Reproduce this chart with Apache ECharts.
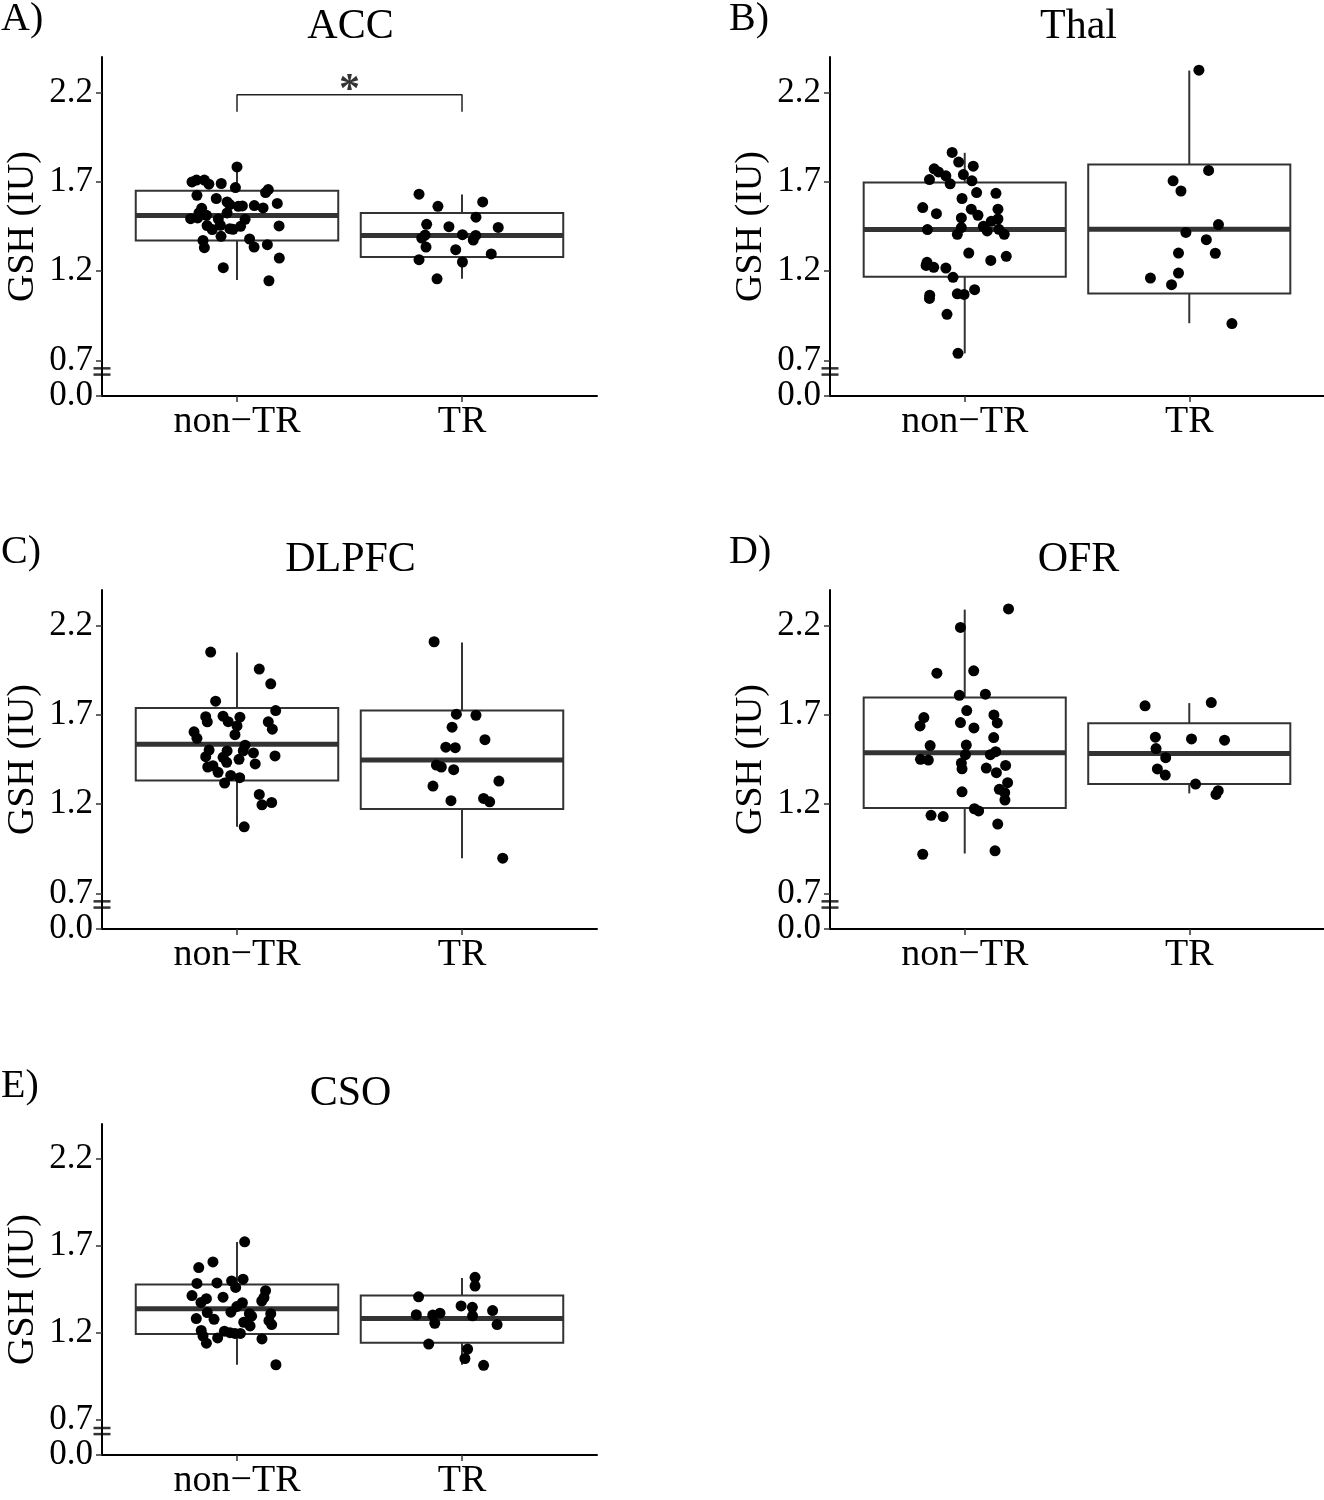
<!DOCTYPE html>
<html>
<head>
<meta charset="utf-8">
<script src="https://cdn.jsdelivr.net/npm/echarts@6/dist/echarts.min.js"></script>
<style>
  html, body { margin: 0; padding: 0; background: #fff; }
  #main { width: 1324px; height: 1500px; }
</style>
</head>
<body>
<div id="main"></div>
<script>
var myChart = echarts.init(document.getElementById('main'));

var groups = ['non\u2212TR', 'TR'];
var panelTitles = ['ACC', 'Thal', 'DLPFC', 'OFR', 'CSO'];
var panelLetters = ['A)', 'B)', 'C)', 'D)', 'E)'];
var tickValues = [0.0, 0.7, 1.2, 1.7, 2.2];
var tickLabels = ['0.0', '0.7', '1.2', '1.7', '2.2'];

// box stats: [lower whisker, Q1, median, Q3, upper whisker] for non-TR, TR
var accBox = [[1.15, 1.372, 1.512, 1.650, 1.784], [1.157, 1.279, 1.400, 1.526, 1.629]];
var thalBox = [[0.739, 1.168, 1.433, 1.697, 1.863], [0.908, 1.075, 1.434, 1.798, 2.324]];
var dlpfcBox = [[1.073, 1.333, 1.535, 1.738, 2.05], [0.897, 1.172, 1.447, 1.724, 2.106]];
var ofrBox = [[0.923, 1.178, 1.488, 1.797, 2.29], [1.26, 1.312, 1.483, 1.653, 1.766]];
var csoBox = [[1.018, 1.194, 1.340, 1.479, 1.722], [1.018, 1.144, 1.284, 1.415, 1.516]];

// jittered points: [horizontal jitter, GSH]
var accNonTR = [[0,1.784],[-0.20,1.70],[-0.18,1.71],[-0.145,1.71],[-0.125,1.687],[-0.07,1.691],[-0.007,1.668],[0.127,1.64],[0.139,1.657],[-0.178,1.625],[-0.092,1.607],[-0.044,1.588],[-0.032,1.573],[0.006,1.563],[0.024,1.565],[0.077,1.567],[0.116,1.554],[0.179,1.579],[-0.157,1.552],[-0.169,1.526],[-0.136,1.513],[-0.206,1.494],[-0.175,1.498],[-0.044,1.526],[-0.083,1.492],[0.036,1.49],[-0.133,1.455],[-0.11,1.433],[-0.074,1.457],[-0.032,1.438],[-0.018,1.434],[0.016,1.451],[0.187,1.453],[-0.071,1.395],[-0.151,1.372],[-0.145,1.331],[0.056,1.38],[0.076,1.335],[0.135,1.348],[0.188,1.273],[-0.061,1.219],[0.142,1.146]];
var accTR = [[-0.191,1.631],[-0.107,1.563],[0.092,1.588],[0.062,1.502],[-0.157,1.462],[-0.058,1.449],[0.161,1.445],[-0.164,1.402],[-0.179,1.385],[0.002,1.404],[0.061,1.40],[0.05,1.374],[-0.16,1.335],[-0.028,1.32],[0.13,1.296],[-0.191,1.264],[0.002,1.251],[-0.111,1.157]];
var thalNonTR = [[-0.056,1.865],[-0.027,1.811],[0.038,1.788],[-0.136,1.773],[-0.117,1.756],[-0.084,1.734],[-0.006,1.741],[-0.157,1.713],[-0.065,1.689],[0.032,1.706],[0.053,1.64],[0.139,1.636],[-0.012,1.607],[-0.187,1.556],[-0.126,1.522],[0.029,1.547],[0.059,1.513],[0.148,1.547],[-0.015,1.498],[0.148,1.492],[0.118,1.479],[-0.166,1.433],[-0.015,1.444],[0.083,1.451],[0.10,1.425],[-0.033,1.406],[0.152,1.434],[0.176,1.406],[0.018,1.301],[0.116,1.26],[0.185,1.283],[-0.168,1.249],[-0.172,1.232],[-0.138,1.221],[-0.084,1.217],[-0.052,1.165],[-0.156,1.065],[-0.157,1.047],[-0.033,1.073],[-0.003,1.069],[0.044,1.096],[-0.079,0.958],[-0.03,0.739]];
var thalTR = [[0.043,2.326],[0.086,1.764],[-0.072,1.706],[-0.037,1.649],[0.13,1.461],[-0.015,1.417],[0.076,1.376],[-0.048,1.301],[0.116,1.30],[-0.048,1.189],[-0.173,1.161],[-0.079,1.124],[0.19,0.906]];
var dlpfcNonTR = [[-0.117,2.052],[0.099,1.957],[0.15,1.874],[-0.095,1.777],[0.172,1.724],[-0.139,1.69],[-0.132,1.661],[-0.062,1.693],[-0.039,1.662],[0.013,1.687],[0,1.638],[0.139,1.661],[0.157,1.62],[-0.191,1.605],[-0.178,1.569],[-0.009,1.589],[0.036,1.53],[-0.124,1.503],[-0.044,1.498],[0.028,1.499],[0.073,1.487],[0.169,1.47],[-0.139,1.466],[-0.062,1.462],[0.009,1.451],[-0.046,1.434],[0.081,1.425],[-0.13,1.408],[-0.107,1.415],[-0.084,1.378],[-0.028,1.361],[0.012,1.348],[-0.055,1.318],[0.099,1.254],[0.111,1.196],[0.154,1.209],[0.032,1.073]];
var dlpfcTR = [[-0.124,2.11],[-0.025,1.704],[0.062,1.698],[-0.044,1.631],[0.102,1.561],[-0.072,1.519],[-0.03,1.516],[-0.114,1.419],[-0.092,1.408],[-0.037,1.393],[-0.129,1.301],[0.164,1.329],[-0.049,1.219],[0.096,1.232],[0.123,1.213],[0.181,0.897]];
var ofrNonTR = [[0.195,2.294],[-0.019,2.19],[-0.124,1.934],[0.04,1.947],[-0.024,1.81],[0.092,1.816],[0.009,1.724],[-0.182,1.685],[-0.199,1.638],[-0.019,1.657],[0.041,1.627],[0.13,1.70],[0.145,1.655],[0.129,1.573],[-0.154,1.528],[0.007,1.531],[0.138,1.494],[0.114,1.477],[0.003,1.477],[-0.197,1.451],[-0.162,1.447],[-0.015,1.43],[-0.012,1.398],[0.096,1.402],[0.182,1.417],[0.141,1.376],[0.191,1.32],[0.154,1.283],[0.178,1.264],[0.179,1.223],[-0.012,1.269],[0.043,1.174],[0.062,1.162],[-0.15,1.137],[-0.096,1.13],[0.147,1.088],[-0.187,0.919],[0.135,0.938]];
var ofrTR = [[-0.197,1.751],[0.098,1.769],[-0.151,1.575],[0.01,1.565],[0.157,1.558],[-0.148,1.511],[-0.105,1.46],[-0.142,1.397],[-0.107,1.363],[0.028,1.312],[0.119,1.254],[0.129,1.275]];
var csoNonTR = [[0.034,1.724],[-0.107,1.608],[-0.17,1.576],[-0.178,1.485],[-0.089,1.488],[-0.024,1.499],[0.027,1.509],[-0.006,1.462],[0.127,1.443],[0.12,1.404],[0.11,1.384],[-0.2,1.415],[-0.136,1.397],[-0.16,1.376],[-0.062,1.406],[0.024,1.374],[-0.001,1.352],[-0.027,1.32],[-0.132,1.318],[0.055,1.311],[0.065,1.297],[0.15,1.311],[-0.181,1.283],[-0.102,1.279],[0.03,1.262],[0.058,1.241],[0.142,1.271],[0.154,1.249],[-0.159,1.215],[-0.056,1.211],[-0.031,1.202],[-0.009,1.198],[0.015,1.198],[-0.151,1.183],[-0.086,1.172],[0.111,1.166],[-0.136,1.142],[0.173,1.018]];
var csoTR = [[0.058,1.52],[0.058,1.47],[-0.193,1.408],[-0.004,1.356],[0.046,1.348],[0.136,1.329],[-0.203,1.305],[-0.13,1.303],[-0.098,1.314],[0.047,1.299],[-0.121,1.256],[0.156,1.249],[-0.148,1.137],[0.025,1.108],[0.013,1.054],[0.096,1.015]];

// significance bracket on ACC
var accSigLine = [[0, 2.093], [0, 2.189], [1, 2.189], [1, 2.093]];
var accSigLabel = [[0.5, 2.19, '*']];

var panelBoxes = [accBox, thalBox, dlpfcBox, ofrBox, csoBox];
var panelPoints = [[accNonTR, accTR], [thalNonTR, thalTR], [dlpfcNonTR, dlpfcTR], [ofrNonTR, ofrTR], [csoNonTR, csoTR]];

// axis break: 0.0..0.7 squeezed into a short stretch under 0.7
function toAxis(v) { return v >= 0.7 ? v : 0.5 + v * (0.2 / 0.7); }
var tickPos = tickValues.map(toAxis);
function tickText(v) {
    var best = 0;
    for (var k = 0; k < tickPos.length; k++) {
        if (Math.abs(tickPos[k] - v) < Math.abs(tickPos[best] - v)) best = k;
    }
    return tickLabels[best];
}

var FONT = 'Liberation Serif';
var gridPos = [[102, 57], [830, 57], [102, 590], [830, 590], [102, 1124]];
var GW = 495, GH = 339;

var grids = [], xAxes = [], yAxes = [], titles = [], series = [];

gridPos.forEach(function (p, i) {
    grids.push({ left: p[0], top: p[1], width: GW, height: GH });
    xAxes.push({
        type: 'value', gridIndex: i, min: -0.6, max: 1.6,
        axisLine: { show: true, onZero: false, lineStyle: { color: '#000', width: 2 } },
        axisTick: { show: true, customValues: [0, 1], length: 6, lineStyle: { color: '#333', width: 1.5 } },
        axisLabel: { customValues: [0, 1], formatter: function (v) { return groups[Math.round(v)]; },
            fontFamily: FONT, fontSize: 38, color: '#000', margin: 7 },
        splitLine: { show: false }
    });
    yAxes.push({
        type: 'value', gridIndex: i, min: 0.5, max: 2.4,
        axisLine: { show: true, onZero: false, lineStyle: { color: '#000', width: 2 } },
        axisTick: { show: true, customValues: tickPos, length: 6, lineStyle: { color: '#333', width: 1.5 } },
        axisLabel: { customValues: tickPos, formatter: tickText,
            fontFamily: FONT, fontSize: 35, color: '#000', margin: 9 },
        splitLine: { show: false },
        name: 'GSH (IU)', nameLocation: 'middle', nameGap: 60,
        nameTextStyle: { fontFamily: FONT, fontSize: 38, color: '#000' }
    });
    titles.push({
        text: panelTitles[i], left: p[0] + GW / 2 - 4, top: p[1] - 56, textAlign: 'center',
        textStyle: { fontFamily: FONT, fontSize: 42, fontWeight: 'normal', color: '#000' }
    });
    titles.push({
        text: panelLetters[i], left: p[0] - 106, top: p[1] - 63,
        textStyle: { fontFamily: FONT, fontSize: 40, fontWeight: 'normal', color: '#000' }
    });

    var boxData = panelBoxes[i].map(function (b, g) { return [g].concat(b); });
    series.push({
        type: 'custom', xAxisIndex: i, yAxisIndex: i, data: boxData, z: 2,
        renderItem: function (params, api) {
            var g = api.value(0);
            var half = api.size([0.9, 0])[0] / 2;
            var lo = api.coord([g, api.value(1)]);
            var q1 = api.coord([g, api.value(2)]);
            var md = api.coord([g, api.value(3)]);
            var q3 = api.coord([g, api.value(4)]);
            var hi = api.coord([g, api.value(5)]);
            var st = { stroke: '#333', lineWidth: 2 };
            return {
                type: 'group',
                children: [
                    { type: 'line', shape: { x1: hi[0], y1: hi[1], x2: q3[0], y2: q3[1] }, style: st },
                    { type: 'line', shape: { x1: q1[0], y1: q1[1], x2: lo[0], y2: lo[1] }, style: st },
                    { type: 'rect', shape: { x: q3[0] - half, y: q3[1], width: half * 2, height: q1[1] - q3[1] },
                      style: { fill: '#fff', stroke: '#333', lineWidth: 2 } },
                    { type: 'line', shape: { x1: md[0] - half, y1: md[1], x2: md[0] + half, y2: md[1] },
                      style: { stroke: '#333', lineWidth: 5 } }
                ]
            };
        }
    });

    panelPoints[i].forEach(function (pts, g) {
        series.push({
            type: 'scatter', xAxisIndex: i, yAxisIndex: i, z: 3,
            symbolSize: 11, itemStyle: { color: '#000', opacity: 1 },
            data: pts.map(function (d) { return [g + d[0], toAxis(d[1])]; })
        });
    });

    // axis-break marks on the y axis
    series.push({
        type: 'scatter', xAxisIndex: i, yAxisIndex: i, z: 4, silent: true, clip: false,
        symbol: 'rect', symbolSize: [17, 2.5], itemStyle: { color: '#000' },
        data: [[-0.6, 0.655], [-0.6, 0.62]]
    });
});

series.push({
    type: 'line', xAxisIndex: 0, yAxisIndex: 0, data: accSigLine, symbol: 'none', z: 4,
    lineStyle: { color: '#222', width: 1.5 }
});
series.push({
    type: 'scatter', xAxisIndex: 0, yAxisIndex: 0, data: accSigLabel, symbolSize: 0, z: 4,
    label: { show: true, position: 'inside', offset: [0, -3], formatter: function (p) { return p.data[2]; },
        fontFamily: FONT, fontSize: 42, fontWeight: 'bold', color: '#000' }
});

var option = {
    backgroundColor: '#fff',
    animation: false,
    title: titles,
    grid: grids,
    xAxis: xAxes,
    yAxis: yAxes,
    series: series
};
myChart.setOption(option);
</script>
</body>
</html>
